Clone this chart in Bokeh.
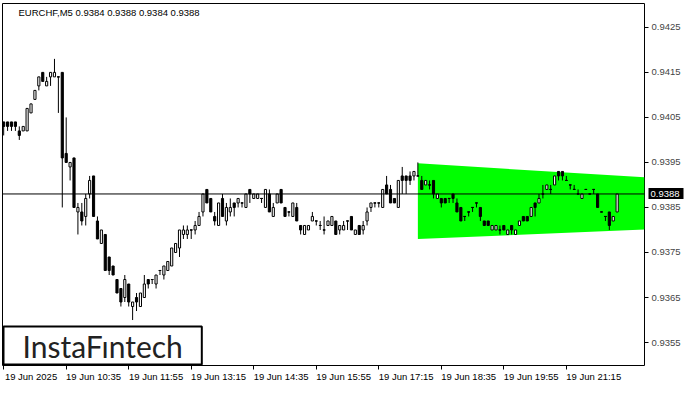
from bokeh.plotting import figure
from bokeh.models import (Range1d, FixedTicker, Span, Label, ColumnDataSource,
                          PrintfTickFormatter, LinearAxis)
from bokeh.embed import file_html
from bokeh.resources import INLINE

title_text = "EURCHF,M5  0.9384 0.9388 0.9384 0.9388"
logo_text = "InstaF\u0131ntech"

time_tick_index = [0, 16, 32, 48, 64, 80, 96, 112, 128, 144]
time_tick_labels = ["19 Jun 2025", "19 Jun 10:35", "19 Jun 11:55", "19 Jun 13:15", "19 Jun 14:35",
                    "19 Jun 15:55", "19 Jun 17:15", "19 Jun 18:35", "19 Jun 19:55", "19 Jun 21:15"]
price_ticks = [0.9355, 0.9365, 0.9375, 0.9385, 0.9395, 0.9405, 0.9415, 0.9425]

opens = [0.9404, 0.9404, 0.9404, 0.9404, 0.9402, 0.9402, 0.9402, 0.9406, 0.9409, 0.9412,
         0.9415, 0.9412, 0.9414, 0.9414, 0.9414, 0.9415, 0.9397, 0.9394, 0.9396, 0.9384,
         0.9384, 0.9383, 0.9388, 0.9392, 0.9382, 0.9377, 0.9379, 0.9374, 0.9372, 0.9369,
         0.9367, 0.9365, 0.9368, 0.9363, 0.9365, 0.9363, 0.9365, 0.9369, 0.9369, 0.9368,
         0.9371, 0.9370, 0.9371, 0.9372, 0.9375, 0.9376, 0.9379, 0.9379, 0.9380, 0.9380,
         0.9381, 0.9384, 0.9389, 0.9387, 0.9383, 0.9381, 0.9387, 0.9382, 0.9384, 0.9386,
         0.9386, 0.9386, 0.9385, 0.9389, 0.9387, 0.9387, 0.9387, 0.9385, 0.9388, 0.9383,
         0.9386, 0.9389, 0.9385, 0.9384, 0.9383, 0.9385, 0.9381, 0.9379, 0.9380, 0.9382,
         0.9382, 0.9381, 0.9380, 0.9381, 0.9381, 0.9382, 0.9380, 0.9380, 0.9382, 0.9383,
         0.9379, 0.9381, 0.9380, 0.9382, 0.9385, 0.9386, 0.9386, 0.9385, 0.9390, 0.9389,
         0.9387, 0.9385, 0.9392, 0.9392, 0.9392, 0.9392, 0.9392, 0.9391, 0.9390, 0.9390,
         0.9391, 0.9387, 0.9387, 0.9387, 0.9387, 0.9388, 0.9386, 0.9385, 0.9383, 0.9384,
         0.9385, 0.9386, 0.9385, 0.9382, 0.9382, 0.9380, 0.9380, 0.9380, 0.9381, 0.9379,
         0.9381, 0.9379, 0.9381, 0.9383, 0.9383, 0.9383, 0.9386, 0.9386, 0.9388, 0.9389,
         0.9389, 0.9390, 0.9393, 0.9393, 0.9391, 0.9390, 0.9389, 0.9388, 0.9387, 0.9389,
         0.9388, 0.9389, 0.9388, 0.9384, 0.9383, 0.9384, 0.9382, 0.9384]
highs = [0.9404, 0.9404, 0.9404, 0.9404, 0.9403, 0.9403, 0.9407, 0.9408, 0.9411, 0.9414,
         0.9415, 0.9414, 0.9415, 0.9418, 0.9414, 0.9415, 0.9405, 0.9395, 0.9396, 0.9386,
         0.9386, 0.9388, 0.9392, 0.9392, 0.9383, 0.9380, 0.9379, 0.9374, 0.9372, 0.9369,
         0.9367, 0.9370, 0.9368, 0.9364, 0.9366, 0.9366, 0.9370, 0.9369, 0.9369, 0.9370,
         0.9371, 0.9372, 0.9373, 0.9376, 0.9377, 0.9380, 0.9381, 0.9381, 0.9380, 0.9382,
         0.9384, 0.9388, 0.9389, 0.9387, 0.9384, 0.9386, 0.9388, 0.9386, 0.9387, 0.9386,
         0.9387, 0.9386, 0.9388, 0.9389, 0.9388, 0.9388, 0.9387, 0.9389, 0.9389, 0.9386,
         0.9388, 0.9389, 0.9385, 0.9384, 0.9386, 0.9386, 0.9381, 0.9381, 0.9381, 0.9384,
         0.9382, 0.9382, 0.9383, 0.9382, 0.9383, 0.9382, 0.9381, 0.9382, 0.9382, 0.9383,
         0.9380, 0.9381, 0.9382, 0.9385, 0.9386, 0.9386, 0.9386, 0.9389, 0.9392, 0.9390,
         0.9387, 0.9391, 0.9394, 0.9392, 0.9393, 0.9393, 0.9395, 0.9392, 0.9391, 0.9391,
         0.9391, 0.9388, 0.9387, 0.9387, 0.9387, 0.9388, 0.9387, 0.9385, 0.9383, 0.9384,
         0.9385, 0.9386, 0.9385, 0.9382, 0.9382, 0.9381, 0.9381, 0.9381, 0.9381, 0.9380,
         0.9381, 0.9380, 0.9382, 0.9383, 0.9383, 0.9385, 0.9386, 0.9388, 0.9390, 0.9390,
         0.9390, 0.9392, 0.9393, 0.9393, 0.9392, 0.9390, 0.9390, 0.9389, 0.9388, 0.9389,
         0.9388, 0.9389, 0.9388, 0.9384, 0.9383, 0.9384, 0.9383, 0.9388]
lows = [0.9401, 0.9402, 0.9402, 0.9402, 0.9400, 0.9402, 0.9402, 0.9406, 0.9409, 0.9411,
        0.9413, 0.9412, 0.9412, 0.9414, 0.9406, 0.9385, 0.9395, 0.9391, 0.9385, 0.9379,
        0.9381, 0.9381, 0.9387, 0.9383, 0.9378, 0.9377, 0.9371, 0.9370, 0.9370, 0.9366,
        0.9363, 0.9364, 0.9363, 0.9360, 0.9362, 0.9363, 0.9365, 0.9367, 0.9368, 0.9367,
        0.9370, 0.9369, 0.9371, 0.9372, 0.9375, 0.9374, 0.9378, 0.9378, 0.9378, 0.9379,
        0.9381, 0.9383, 0.9386, 0.9384, 0.9381, 0.9381, 0.9383, 0.9381, 0.9383, 0.9383,
        0.9385, 0.9385, 0.9385, 0.9386, 0.9387, 0.9387, 0.9386, 0.9385, 0.9384, 0.9383,
        0.9386, 0.9386, 0.9383, 0.9383, 0.9383, 0.9382, 0.9379, 0.9379, 0.9380, 0.9382,
        0.9381, 0.9380, 0.9379, 0.9381, 0.9381, 0.9379, 0.9379, 0.9380, 0.9380, 0.9380,
        0.9379, 0.9379, 0.9379, 0.9381, 0.9384, 0.9385, 0.9385, 0.9385, 0.9388, 0.9386,
        0.9386, 0.9385, 0.9388, 0.9388, 0.9390, 0.9391, 0.9392, 0.9389, 0.9390, 0.9389,
        0.9387, 0.9387, 0.9385, 0.9386, 0.9386, 0.9386, 0.9384, 0.9382, 0.9382, 0.9383,
        0.9384, 0.9385, 0.9382, 0.9381, 0.9381, 0.9380, 0.9380, 0.9379, 0.9380, 0.9379,
        0.9379, 0.9379, 0.9381, 0.9382, 0.9382, 0.9383, 0.9383, 0.9386, 0.9387, 0.9389,
        0.9388, 0.9390, 0.9391, 0.9391, 0.9391, 0.9389, 0.9389, 0.9388, 0.9387, 0.9389,
        0.9388, 0.9388, 0.9385, 0.9384, 0.9382, 0.9380, 0.9382, 0.9384]
closes = [0.9403, 0.9403, 0.9403, 0.9403, 0.9401, 0.9403, 0.9407, 0.9408, 0.9411, 0.9414,
          0.9413, 0.9413, 0.9415, 0.9415, 0.9414, 0.9396, 0.9395, 0.9395, 0.9385, 0.9385,
          0.9382, 0.9387, 0.9391, 0.9383, 0.9378, 0.9380, 0.9371, 0.9371, 0.9370, 0.9366,
          0.9364, 0.9369, 0.9364, 0.9364, 0.9364, 0.9366, 0.9368, 0.9368, 0.9369, 0.9370,
          0.9371, 0.9372, 0.9373, 0.9376, 0.9377, 0.9380, 0.9380, 0.9380, 0.9380, 0.9381,
          0.9383, 0.9388, 0.9386, 0.9384, 0.9382, 0.9386, 0.9383, 0.9385, 0.9385, 0.9385,
          0.9387, 0.9386, 0.9388, 0.9388, 0.9388, 0.9388, 0.9387, 0.9389, 0.9384, 0.9385,
          0.9388, 0.9386, 0.9383, 0.9384, 0.9386, 0.9382, 0.9380, 0.9381, 0.9381, 0.9383,
          0.9382, 0.9381, 0.9380, 0.9382, 0.9383, 0.9379, 0.9381, 0.9381, 0.9382, 0.9380,
          0.9380, 0.9379, 0.9381, 0.9384, 0.9386, 0.9386, 0.9386, 0.9389, 0.9388, 0.9386,
          0.9386, 0.9391, 0.9391, 0.9391, 0.9391, 0.9393, 0.9392, 0.9389, 0.9391, 0.9390,
          0.9388, 0.9388, 0.9386, 0.9386, 0.9387, 0.9387, 0.9384, 0.9382, 0.9383, 0.9384,
          0.9385, 0.9386, 0.9383, 0.9381, 0.9381, 0.9381, 0.9381, 0.9380, 0.9380, 0.9380,
          0.9380, 0.9380, 0.9382, 0.9382, 0.9382, 0.9385, 0.9385, 0.9387, 0.9388, 0.9390,
          0.9389, 0.9392, 0.9392, 0.9392, 0.9391, 0.9390, 0.9389, 0.9388, 0.9388, 0.9389,
          0.9388, 0.9389, 0.9385, 0.9384, 0.9383, 0.9381, 0.9383, 0.9388]

pattern_index = [106, 164]
pattern_top = [0.93948, 0.93917]
pattern_bottom = [0.93780, 0.93801]
last_price = 0.9388

FONT = "Liberation Sans"
FS = "9.5px"
LABEL_SHIFT = 7      # bars; puts the centred time label just right of its tick
TAG_LEN = 35         # px length of the price tag on the right axis

idx = list(range(len(opens)))
top = [max(o, c) for o, c in zip(opens, closes)]
bot = [min(o, c) for o, c in zip(opens, closes)]
fill = ["white" if c > o else "black" for o, c in zip(opens, closes)]
src = ColumnDataSource(dict(x=idx, o=opens, h=highs, l=lows, c=closes, top=top, bot=bot, fill=fill))
doji = [i for i in idx if opens[i] == closes[i]]
dsrc = ColumnDataSource(dict(x0=[i - 0.33 for i in doji], x1=[i + 0.33 for i in doji],
                             y=[opens[i] for i in doji]))

p = figure(width=684, height=384, x_range=Range1d(-0.3, 164), y_range=Range1d(0.93499, 0.94303),
           output_backend="svg", toolbar_location=None, y_axis_location="right",
           min_border_left=2, min_border_top=3, min_border_right=40, min_border_bottom=16,
           background_fill_color="white", border_fill_color="white",
           outline_line_color="black", outline_line_width=1)
p.xgrid.visible = False
p.ygrid.visible = False

# pattern band
px = [pattern_index[0], pattern_index[1], pattern_index[1], pattern_index[0]]
py = [pattern_top[0], pattern_top[1], pattern_bottom[1], pattern_bottom[0]]
p.patch(px, py, fill_color="#00FF00", line_color=None)

p.add_layout(Span(location=last_price, dimension="width", line_color="black", line_width=1))

p.segment(x0="x", y0="h", x1="x", y1="l", source=src, line_color="black", line_width=1)
p.vbar(x="x", width=0.55, top="top", bottom="bot", source=src, fill_color="fill",
       line_color="black", line_width=1)
p.segment(x0="x0", y0="y", x1="x1", y1="y", source=dsrc, line_color="black", line_width=1)

# right price axis
ya = p.yaxis[0]
ya.ticker = FixedTicker(ticks=price_ticks)
ya.formatter = PrintfTickFormatter(format="%.4f")
ya.axis_line_color = None
ya.minor_tick_line_color = None
ya.major_tick_in = 0
ya.major_tick_out = 4
ya.major_tick_line_color = "black"
ya.major_label_text_font = FONT
ya.major_label_text_font_size = FS
ya.major_label_standoff = 3

# price tag (outer right axis drawn back over the price axis area)
tag = LinearAxis(ticker=FixedTicker(ticks=[last_price]), formatter=PrintfTickFormatter(format="%.4f"),
                 axis_line_color=None, minor_tick_line_color=None,
                 major_tick_in=TAG_LEN, major_tick_out=0, major_tick_line_width=11,
                 major_tick_line_color="black", major_label_standoff=-(TAG_LEN - 2),
                 major_label_text_color="white", major_label_text_font=FONT,
                 major_label_text_font_size=FS)
p.add_layout(tag, "right")

# time axis: tick marks
xa = p.xaxis[0]
xa.ticker = FixedTicker(ticks=time_tick_index)
xa.major_label_overrides = {i: "" for i in time_tick_index}
xa.major_label_text_font_size = "0px"
xa.major_label_standoff = 0
xa.axis_line_color = None
xa.minor_tick_line_color = None
xa.major_tick_in = 0
xa.major_tick_out = 4
xa.major_tick_line_color = "black"

# time axis: labels starting at the tick
shifted = [i + LABEL_SHIFT for i in time_tick_index]
xl = LinearAxis(ticker=FixedTicker(ticks=shifted),
                major_label_overrides=dict(zip(shifted, time_tick_labels)),
                axis_line_color=None, minor_tick_line_color=None,
                major_tick_in=0, major_tick_out=0, major_label_standoff=1,
                major_label_text_font=FONT, major_label_text_font_size=FS,
                major_label_text_color="black")
p.add_layout(xl, "below")

p.add_layout(Label(x=16, x_units="screen", y=0.94303, y_offset=-3, text=title_text,
                   text_baseline="top", text_align="left", text_font=FONT,
                   text_font_size=FS, text_color="black"))

p.add_layout(Label(x=1, x_units="screen", y=0.93499, y_offset=1, text=logo_text,
                   text_baseline="bottom", text_align="left", text_font="Lato",
                   text_font_size="30px", text_color="#222222",
                   background_fill_color="white", border_line_color="black",
                   border_line_width=2, padding=(19, 19, 1, 1)))

open("out.html", "w").write(file_html(p, INLINE))
